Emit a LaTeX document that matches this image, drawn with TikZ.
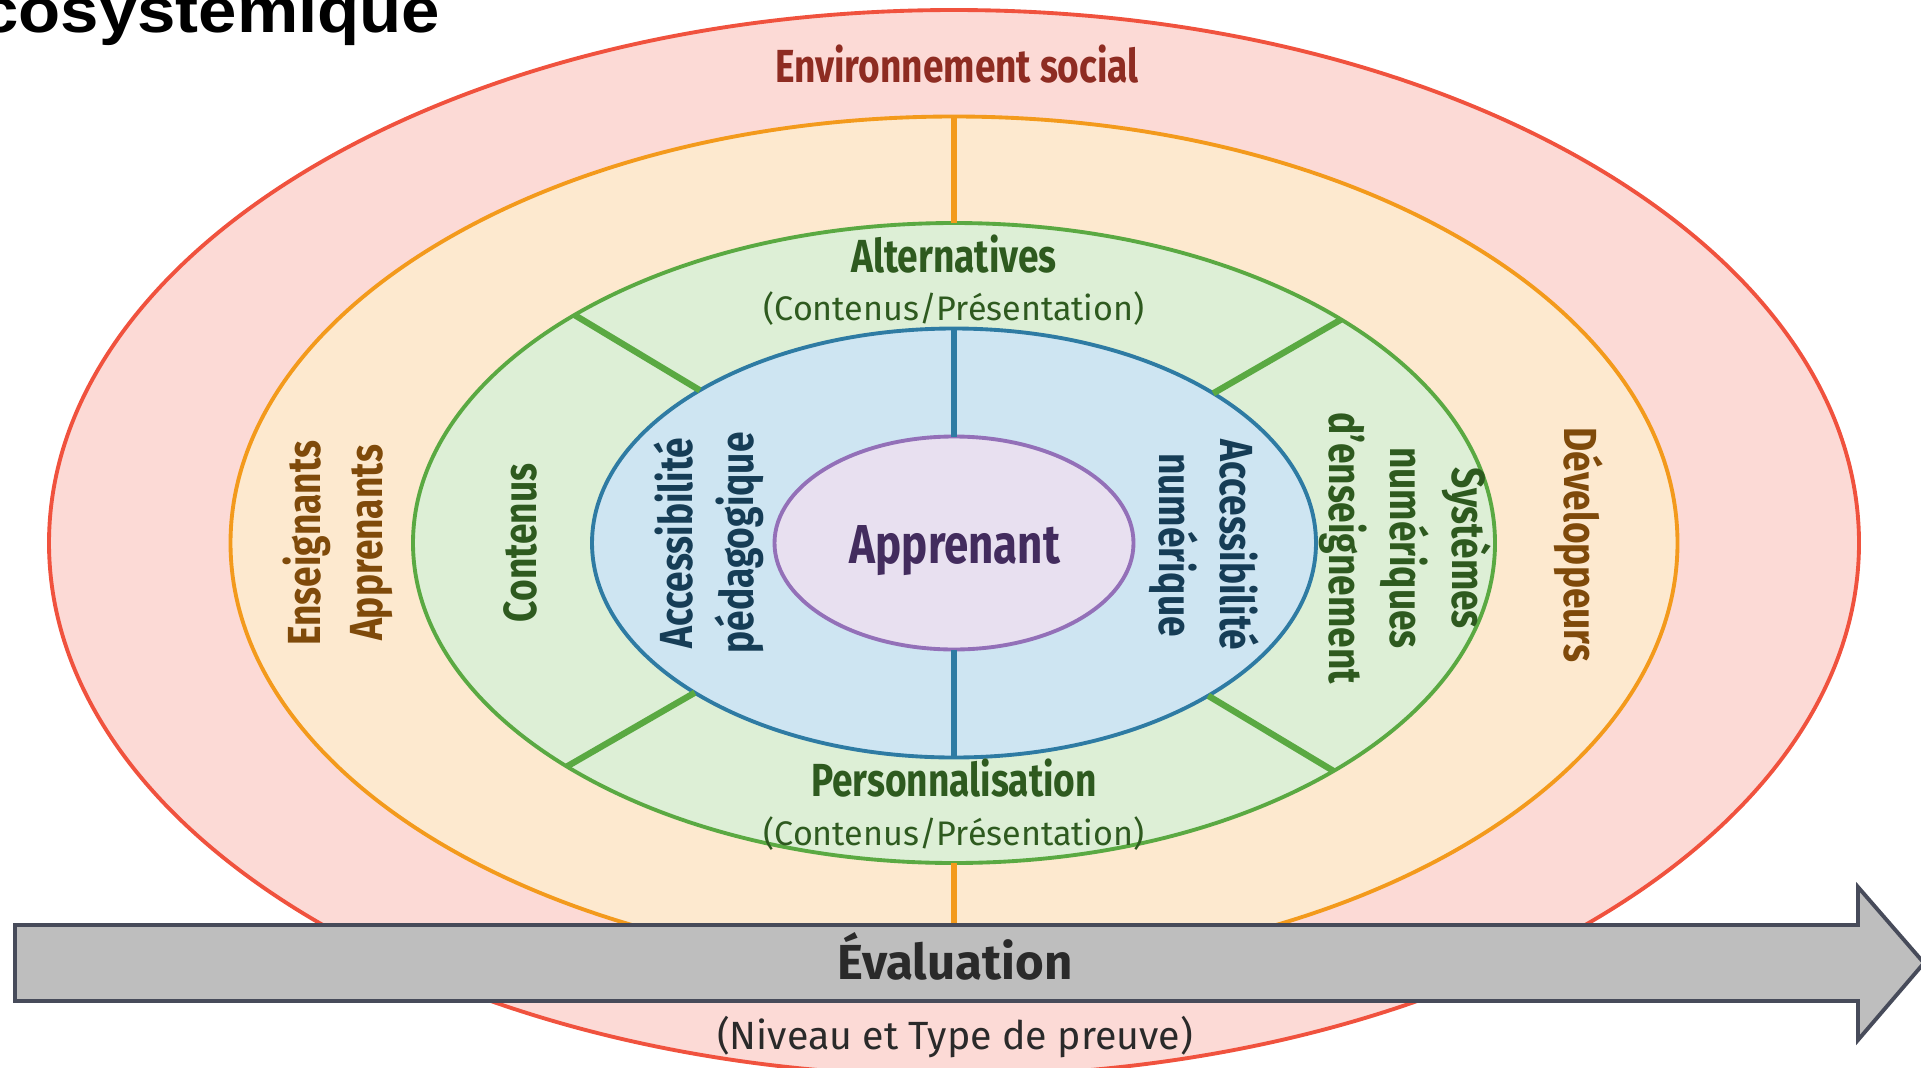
\documentclass[tikz,border=0pt]{standalone}
\usepackage{fontspec}
\setmainfont{Fira Sans}
\newfontfamily\condfont[FakeStretch=0.8]{Fira Sans}
\newfontfamily\titlefont[FakeStretch=1.09]{Liberation Sans}
\usetikzlibrary{shapes.geometric}

\definecolor{socialred}{RGB}{240, 82, 62}
\definecolor{socialfill}{RGB}{252, 218, 214}
\definecolor{socialtext}{RGB}{142, 44, 34}
\definecolor{actorsorange}{RGB}{243, 154, 28}
\definecolor{actorsfill}{RGB}{253, 233, 207}
\definecolor{actorstext}{RGB}{127, 74, 10}
\definecolor{levergreen}{RGB}{90, 169, 66}
\definecolor{leverfill}{RGB}{221, 239, 214}
\definecolor{levertext}{RGB}{46, 90, 31}
\definecolor{accessblue}{RGB}{46, 123, 163}
\definecolor{accessfill}{RGB}{206, 229, 242}
\definecolor{accesstext}{RGB}{22, 61, 86}
\definecolor{learnerviolet}{RGB}{147, 112, 184}
\definecolor{learnerfill}{RGB}{232, 224, 240}
\definecolor{learnertext}{RGB}{67, 44, 94}
\definecolor{evalgray}{RGB}{190, 190, 190}
\definecolor{evaledge}{RGB}{71, 75, 90}
\definecolor{evaltext}{RGB}{42, 42, 42}

\tikzset{
  ring/.style={ellipse, inner sep=0pt, outer sep=0pt, line width=1.1pt},
  divider/.style={line width=1.8pt},
  ringlabel/.style={font=\condfont\bfseries\fontsize{13.2}{17.5}\selectfont, align=center, inner sep=0pt},
  sublabel/.style={font=\fontsize{9.7}{11}\selectfont, text=levertext, inner sep=0pt, anchor=base}
}

\begin{document}
\begin{tikzpicture}[x=0.1mm, y=-0.1mm]
  \useasboundingbox (0,0) rectangle (1921,1067);

  % Title (cut by the frame)
  \node[anchor=base east, inner sep=0pt, font=\titlefont\bfseries\fontsize{18}{18}\selectfont] (title) at (441,32) {écosystémique};

  % Nested rings
  \node[ring, draw=socialred, fill=socialfill, minimum width=181mm, minimum height=106.6mm] (social) at (954,543) {};
  \node[ring, draw=actorsorange, fill=actorsfill, minimum width=144.7mm, minimum height=85.3mm] (actors) at (954,543) {};
  \node[ring, draw=levergreen, fill=leverfill, minimum width=108.2mm, minimum height=64mm] (lever) at (954,543) {};
  \draw[divider, actorsorange] (actors.north) -- (lever.north);
  \draw[divider, actorsorange] (lever.south) -- (actors.south);
  \node[ring, draw=accessblue, fill=accessfill, minimum width=72.4mm, minimum height=42.9mm] (access) at (954,543) {};
  \foreach \a in {30.6, 149.4, 210.6, 329.4}
    \draw[divider, levergreen] (lever.\a) -- (access.\a);
  \node[ring, draw=learnerviolet, fill=learnerfill, minimum width=35.9mm, minimum height=21.3mm] (learner) at (954,543) {};
  \draw[divider, accessblue] (access.north) -- (learner.north);
  \draw[divider, accessblue] (learner.south) -- (access.south);

  % Ring labels
  \node[ringlabel, text=socialtext, anchor=base] (socialLbl) at (957,82) {Environnement social};
  \node[ringlabel, text=actorstext, rotate=90] (teachLbl) at (338,543) {Enseignants\\Apprenants};
  \node[ringlabel, text=actorstext, rotate=-90] (devLbl) at (1579,545) {Développeurs};
  \node[ringlabel, text=levertext, anchor=base] (altLbl) at (954,272) {Alternatives};
  \node[sublabel] (altSub) at (954,320) {(Contenus/Présentation)};
  \node[ringlabel, text=levertext, anchor=base] (persLbl) at (954,796) {Personnalisation};
  \node[sublabel] (persSub) at (954,845) {(Contenus/Présentation)};
  \node[ringlabel, text=levertext, rotate=90] (contLbl) at (520,543) {Contenus};
  \node[ringlabel, text=levertext, rotate=-90] (sysLbl) at (1405,548) {Systèmes\\numériques\\d’enseignement};
  \node[ringlabel, text=accesstext, rotate=90] (pedaLbl) at (709,543) {Accessibilité\\pédagogique};
  \node[ringlabel, text=accesstext, rotate=-90] (numLbl) at (1204,545) {Accessibilité\\numérique};
  \node[ringlabel, text=learnertext, anchor=base, font=\condfont\bfseries\fontsize{15.6}{17}\selectfont] (learnerLbl) at (955,563) {Apprenant};

  % Evaluation arrow
  \draw[line width=1.1pt, draw=evaledge, fill=evalgray] (15,925) -- (1858,925) -- (1858,887) -- (1924,963) -- (1858,1040) -- (1858,1001) -- (15,1001) -- cycle;
  \node[anchor=base, inner sep=0pt, text=evaltext, font=\bfseries\fontsize{14}{16}\selectfont] (evalLbl) at (955,979) {Évaluation};
  \node[anchor=base, inner sep=0pt, text=evaltext, font=\fontsize{11.2}{13}\selectfont] (evalSub) at (955,1049) {(Niveau et Type de preuve)};
\end{tikzpicture}
\end{document}
